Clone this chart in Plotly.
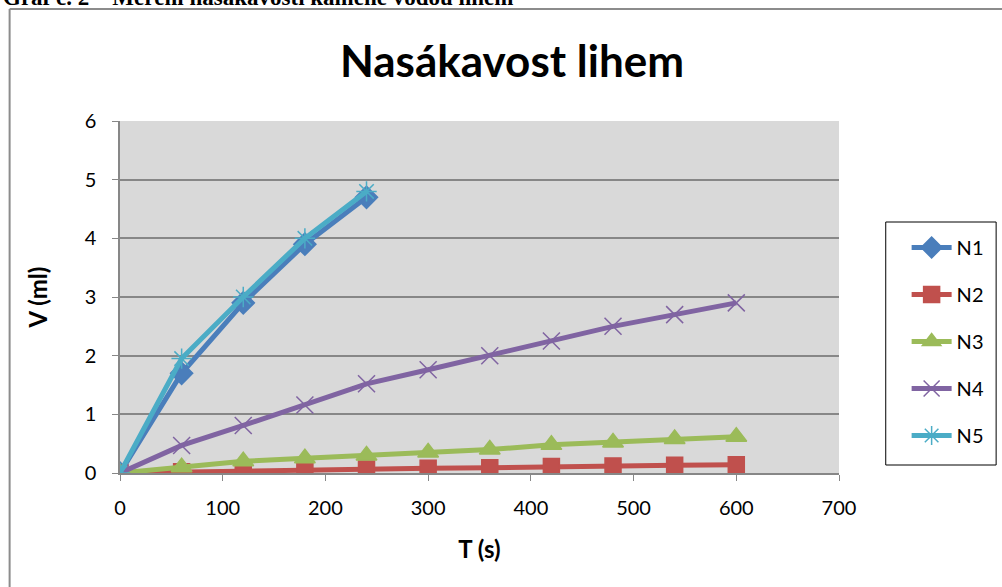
import plotly.graph_objects as go

t_short = [0, 60, 120, 180, 240]
t_long = [0, 60, 120, 180, 240, 300, 360, 420, 480, 540, 600]
n1 = [0, 1.7, 2.9, 3.9, 4.7]
n2 = [0, 0.02, 0.04, 0.06, 0.07, 0.08, 0.09, 0.11, 0.12, 0.13, 0.14]
n3 = [0, 0.1, 0.2, 0.25, 0.3, 0.35, 0.4, 0.48, 0.52, 0.58, 0.62]
n4 = [0, 0.47, 0.81, 1.16, 1.52, 1.76, 2.0, 2.25, 2.5, 2.7, 2.9]
n5 = [0, 1.95, 3.0, 4.0, 4.8]
x_ticks = [0, 100, 200, 300, 400, 500, 600, 700]
y_ticks = [0, 1, 2, 3, 4, 5, 6]

FONT = "Lato"
series = [
    ("N1", t_short, n1, "#4A7EBB", "diamond", 17),
    ("N2", t_long, n2, "#C0504D", "square", 16),
    ("N3", t_long, n3, "#9BBB59", "triangle-up", 18),
    ("N4", t_long, n4, "#8064A2", "x-thin-open", 17),
    ("N5", t_short, n5, "#4BACC6", "asterisk-open", 17),
]

fig = go.Figure()
for name, x, y, col, sym, sz in series:
    fig.add_trace(go.Scatter(
        x=x, y=y, name=name, mode="lines+markers", legendgroup=name,
        line=dict(color=col, width=5),
        marker=dict(symbol=sym, size=sz, color=col,
                    line=dict(color=col, width=1.5)),
    ))

# plot area in page pixels: x 120..843, y 121..473
L, R, T, B = 120, 843, 121, 473
PX = lambda p: (p - L) / (R - L)
PY = lambda p: (B - p) / (B - T)

fig.update_layout(
    width=1002, height=587,
    margin=dict(l=L, r=1002 - R, t=T, b=587 - B),
    paper_bgcolor="white", plot_bgcolor="#D9D9D9",
    font=dict(family=FONT, size=20, color="black"),
    title=dict(text="<b>Nasákavost lihem</b>", x=0.511, xanchor="center",
               y=1 - 62 / 587, yanchor="middle", font=dict(family=FONT, size=44)),
    showlegend=True,
    legend=dict(x=PX(911), xanchor="left", y=PY(228), yanchor="top",
                borderwidth=0, bgcolor="rgba(0,0,0,0)",
                font=dict(family=FONT, size=20), tracegroupgap=18,
                itemwidth=40),
    xaxis=dict(range=[0, 700], tickvals=x_ticks, showgrid=False,
               showline=True, linecolor="#878787", linewidth=1.5,
               ticks="outside", ticklen=6, tickcolor="#878787",
               ticklabelstandoff=10,
               title=dict(text="<b>T (s)</b>", standoff=23),
               zeroline=False),
    yaxis=dict(range=[0, 6], tickvals=y_ticks, showgrid=True,
               gridcolor="#878787", gridwidth=1.5,
               showline=True, linecolor="#878787", linewidth=1.5,
               ticks="outside", ticklen=6, tickcolor="#878787",
               ticklabelstandoff=12,
               title=dict(text="<b>V (ml)</b>", standoff=30),
               zeroline=False),
)

# legend frame
fig.add_shape(type="rect", xref="paper", yref="paper",
              x0=PX(890), x1=PX(1001), y0=PY(222), y1=PY(465),
              line=dict(color="black", width=1), fillcolor="white", layer="below")

# chart outer border (left and top edges visible)
fig.add_shape(type="line", xref="paper", yref="paper",
              x0=PX(9), x1=PX(9), y0=PY(9), y1=PY(600),
              line=dict(color="#8C8C8C", width=2))
fig.add_shape(type="line", xref="paper", yref="paper",
              x0=PX(9), x1=PX(1010), y0=PY(9), y1=PY(9),
              line=dict(color="#8C8C8C", width=2))

# caption at the very top (cut off by the page edge, as in the reference)
fig.add_annotation(text="<b>Graf č. 2 – Měření nasákavosti kamene vodou lihem</b>",
                   xref="paper", yref="paper",
                   x=PX(0), y=PY(12),
                   xanchor="left", yanchor="bottom", showarrow=False,
                   font=dict(family="Liberation Serif", size=23, color="black"))

fig.write_html("out.html", config={"displayModeBar": False},
               post_script="document.body.style.margin='0';")
